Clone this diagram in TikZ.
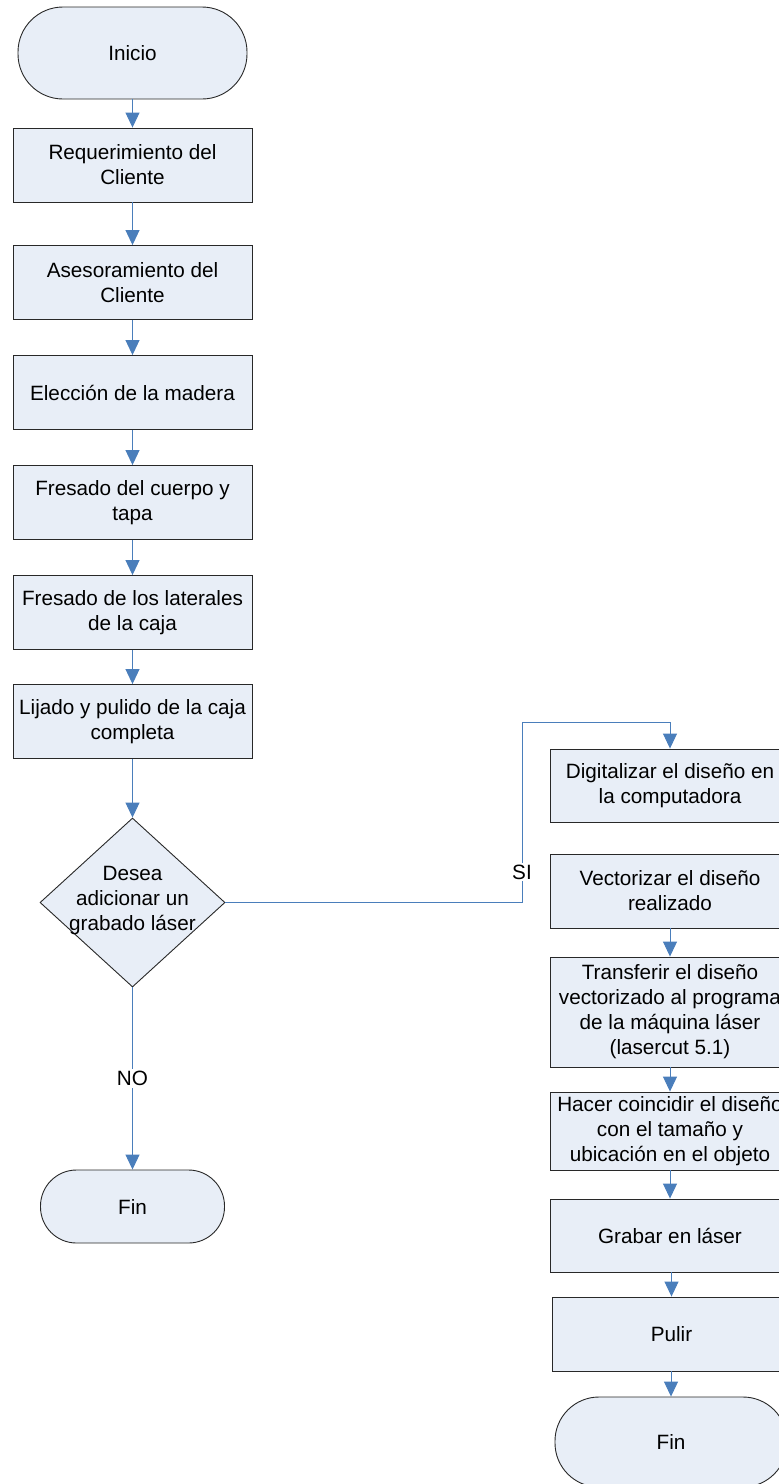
\documentclass[tikz,border=0pt]{standalone}
\usepackage{fontspec}
\setmainfont{Liberation Sans}
\usetikzlibrary{arrows.meta,shapes.geometric}
\definecolor{boxfill}{RGB}{232,238,247}
\definecolor{boxline}{RGB}{40,40,40}
\definecolor{flowblue}{RGB}{74,126,187}
\begin{document}
\begin{tikzpicture}[x=1pt,y=-1pt,
  every node/.style={font=\fontsize{20.7}{25}\selectfont},
  stepbox/.style={draw=boxline, fill=boxfill, line width=0.9pt, rectangle,
    minimum width=239pt, minimum height=74pt, inner sep=0pt, align=center},
  termbox/.style={draw=boxline, fill=boxfill, line width=0.9pt, rectangle,
    inner sep=0pt, align=center},
  decbox/.style={draw=boxline, fill=boxfill, line width=0.9pt, diamond,
    minimum width=185pt, minimum height=169pt, inner sep=0pt},
  flow/.style={draw=flowblue, line width=1pt, -{Triangle[width=14pt,length=15pt]}},
  lbl/.style={fill=white, inner sep=2pt}
]
\useasboundingbox (0,0) rectangle (779,1484);
\clip (0,0) rectangle (779,1484);

% main column
\node[termbox, minimum width=229pt, minimum height=92pt, rounded corners=45pt] (inicio) at (132.5,53) {Inicio};
\node[stepbox] (req) at (132.5,165) {Requerimiento del\\Cliente};
\node[stepbox] (ases) at (132.5,282.5) {Asesoramiento del\\Cliente};
\node[stepbox] (elec) at (132.5,392.5) {Elección de la madera};
\node[stepbox] (fres1) at (132.5,502.5) {Fresado del cuerpo y\\tapa};
\node[stepbox] (fres2) at (132.5,612.5) {Fresado de los laterales\\de la caja};
\node[stepbox] (lij) at (132.5,721.5) {Lijado y pulido de la caja\\completa};
\node[decbox] (dec) at (132.5,902.5) {};
\node[align=center, inner sep=0pt] (dect) at (132.5,901) {Desea\\adicionar un\\grabado láser};
\node[termbox, minimum width=184pt, minimum height=73pt, rounded corners=36pt] (fin1) at (132.5,1206.5) {Fin};

% laser engraving branch
\node[stepbox, minimum height=73pt] (dig) at (670,785.5) {Digitalizar el diseño en\\la computadora};
\node[stepbox] (vect) at (670,891) {Vectorizar el diseño\\realizado};
\node[stepbox, minimum height=110pt] (transf) at (670,1012) {Transferir el diseño\\vectorizado al programa\\de la máquina láser\\(lasercut 5.1)};
\node[stepbox, minimum height=78pt] (hacer) at (670,1131) {Hacer coincidir el diseño\\con el tamaño y\\ubicación en el objeto};
\node[stepbox, minimum height=73pt] (grabar) at (670,1235.5) {Grabar en láser};
\node[stepbox] (pulir) at (671.5,1334) {Pulir};
\node[termbox, minimum width=232pt, minimum height=90pt, rounded corners=44pt] (fin2) at (671,1442) {Fin};

% connectors
\draw[flow] (inicio) -- (req);
\draw[flow] (req) -- (ases);
\draw[flow] (ases) -- (elec);
\draw[flow] (elec) -- (fres1);
\draw[flow] (fres1) -- (fres2);
\draw[flow] (fres2) -- (lij);
\draw[flow] (lij) -- (dec.north);
\draw[flow] (dec.south) -- node[lbl] (no) {NO} (fin1.north);

\coordinate (siA) at (522,902.5);
\coordinate (siB) at (522,722);
\coordinate (siC) at (670,722);
\draw[flow] (dec.east) -- (siA) -- (siB) -- (siC) -- (dig.north);
\node[lbl] (si) at (522,872) {SI};

\draw[flow] (vect) -- (transf);
\draw[flow] (transf) -- (hacer);
\draw[flow] (hacer) -- (grabar);
\draw[flow] (grabar.south -| pulir.north) -- (pulir.north);
\draw[flow] (pulir.south -| fin2.north) -- (fin2.north);
\end{tikzpicture}
\end{document}
